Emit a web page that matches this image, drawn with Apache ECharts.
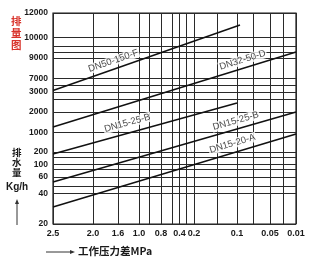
<!DOCTYPE html>
<html><head><meta charset="utf-8">
<script src="https://cdn.jsdelivr.net/npm/echarts@6/dist/echarts.min.js"></script>
<style>html,body{margin:0;padding:0;background:#fff}#c{width:312px;height:267px}</style>
</head><body><div id="c"></div>
<script>
// Nomogram scale positions (chart units along each axis) and their printed labels
const xTickPos = [0, 40, 65, 86, 108, 126.5, 141, 184, 217, 243];
const xTickLabels = ['2.5', '2.0', '1.6', '1.0', '0.8', '0.4', '0.2', '0.1', '0.05', '0.01'];
const xGridPos = [0, 40, 65, 86, 96, 108, 119, 126.5, 133, 141, 164, 184, 200, 217, 230, 243];
const yTickPos = [0, 30.5, 47, 59.5, 72, 91.5, 112, 132, 145.5, 166, 186.5, 211];
const yTickLabels = ['20', '40', '60', '100', '200', '1000', '2000', '3000', '7000', '9000', '10000', '12000'];
const yGridPos = [0, 30.5, 38, 47, 54.5, 59.5, 67, 72, 91.5, 112, 125, 132, 139, 145.5, 166, 171.5, 177.5, 186.5, 211];

// Characteristic lines (start / end points on the nomogram scale)
const seriesNames = ['DN50-150-F', 'DN32-50-D', 'DN15-25-B', 'DN15-25-B', 'DN15-20-A'];
const lineStartX = [0, 0, 0, 0, 0];
const lineStartY = [133.5, 97, 70, 42, 17];
const lineEndX = [187, 243, 184, 243, 243];
const lineEndY = [199, 172, 121, 112, 90];
// where along each line its name is written
const labelAtX = [63, 192, 77, 185, 182];
const labelGap = [8, 8, 10, 8, 9];

const chart = echarts.init(document.getElementById('c'), null, {renderer: 'canvas'});

const lineSeries = seriesNames.map((n, i) => ({
  type: 'line', name: n + '#' + i, symbol: 'none', silent: true, z: 3,
  lineStyle: {color: '#111', width: 1.5},
  data: [[lineStartX[i], lineStartY[i]], [lineEndX[i], lineEndY[i]]]
}));

const labelData = seriesNames.map((n, i) => {
  const t = (labelAtX[i] - lineStartX[i]) / (lineEndX[i] - lineStartX[i]);
  const y = lineStartY[i] + t * (lineEndY[i] - lineStartY[i]);
  const ang = Math.atan2(lineEndY[i] - lineStartY[i], lineEndX[i] - lineStartX[i]) * 180 / Math.PI;
  return {
    value: [labelAtX[i], y], name: n,
    label: {rotate: ang, offset: [0, -labelGap[i]]}
  };
});

const txt = '"Liberation Sans", Arial, sans-serif';
const cjk = '"Noto Sans CJK SC", sans-serif';

chart.setOption({
  animation: false,
  grid: {left: 53, right: 16, top: 13, bottom: 43, show: true, borderColor: '#1a1a1a', borderWidth: 1.2},
  xAxis: {
    type: 'value', min: 0, max: 243,
    axisLine: {show: false},
    axisTick: {show: false, customValues: xGridPos},
    splitLine: {show: true, lineStyle: {color: '#2a2a2a', width: 1}},
    axisLabel: {
      customValues: xTickPos, margin: 5,
      fontFamily: txt, fontWeight: 'bold', fontSize: 9, color: '#1a1a1a',
      formatter: v => xTickLabels[xTickPos.indexOf(v)]
    }
  },
  yAxis: {
    type: 'value', min: 0, max: 211,
    axisLine: {show: false},
    axisTick: {show: false, customValues: yGridPos},
    splitLine: {show: true, lineStyle: {color: '#2a2a2a', width: 1}},
    axisLabel: {
      customValues: yTickPos, margin: 5,
      fontFamily: txt, fontWeight: 'bold', fontSize: 8.5, color: '#1a1a1a',
      formatter: v => yTickLabels[yTickPos.indexOf(v)]
    }
  },
  series: lineSeries.concat([{
    type: 'scatter', symbolSize: 0, silent: true, z: 5,
    label: {
      show: true, position: 'inside', formatter: p => p.name,
      fontFamily: txt, fontSize: 9.5, color: '#111',
      backgroundColor: '#fff', padding: [0, 1]
    },
    data: labelData
  }]),
  graphic: [
    {type: 'text', left: 11, top: 15, style: {text: '排\n量\n图', font: 'bold 10.5px ' + cjk, fill: '#d8322a', lineHeight: 12}},
    {type: 'text', left: 12, top: 147, style: {text: '排\n水\n量', font: 'bold 9.5px ' + cjk, fill: '#1a1a1a', lineHeight: 10}},
    {type: 'text', left: 6, top: 182, style: {text: 'Kg/h', font: 'bold 10px ' + txt, fill: '#1a1a1a'}},
    {type: 'line', shape: {x1: 17, y1: 225, x2: 17, y2: 202}, style: {stroke: '#333', lineWidth: 1}},
    {type: 'polygon', shape: {points: [[15, 204], [19, 204], [17, 199]]}, style: {fill: '#333'}},
    {type: 'line', shape: {x1: 46, y1: 252, x2: 72, y2: 252}, style: {stroke: '#333', lineWidth: 1}},
    {type: 'polygon', shape: {points: [[70, 250], [70, 254], [75, 252]]}, style: {fill: '#333'}},
    {type: 'text', left: 78, top: 246, style: {text: '工作压力差MPa', font: 'bold 10.5px ' + cjk, fill: '#1a1a1a'}}
  ]
});
</script>
</body></html>
